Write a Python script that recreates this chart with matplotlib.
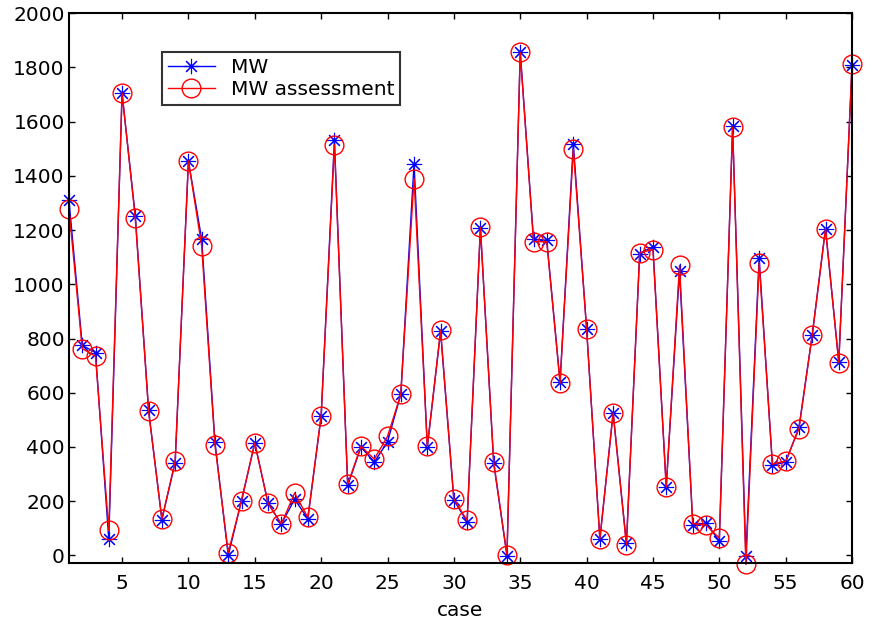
import matplotlib
matplotlib.use('Agg')
import matplotlib.pyplot as plt

# case number and the measured / assessed MW for each case
cases = list(range(1, 61))
mw = [1310, 775, 748, 59, 1704, 1251, 535, 132, 342, 1454,
      1166, 417, 0, 202, 415, 192, 116, 207, 136, 514,
      1531, 258, 400, 344, 419, 594, 1445, 400, 826, 203,
      125, 1208, 341, -1, 1857, 1166, 1162, 640, 1518, 836,
      60, 526, 44, 1113, 1138, 253, 1049, 113, 119, 53,
      1583, -2, 1097, 333, 344, 472, 813, 1205, 713, 1808]
mw_assess = [1277, 763, 734, 92, 1706, 1243, 532, 134, 347, 1455,
             1140, 408, 10, 202, 415, 192, 116, 230, 140, 514,
             1515, 262, 403, 355, 439, 594, 1390, 402, 831, 207,
             129, 1210, 345, 2, 1855, 1157, 1157, 635, 1498, 836,
             61, 526, 39, 1117, 1128, 252, 1070, 117, 112, 64,
             1580, -33, 1079, 337, 348, 467, 813, 1205, 711, 1812]
xticks = [5, 10, 15, 20, 25, 30, 35, 40, 45, 50, 55, 60]
yticks = list(range(0, 2001, 200))

plt.rcParams['font.family'] = 'DejaVu Sans'

fig = plt.figure(figsize=(8.73, 6.28), dpi=100)
ax = fig.add_axes([0.079, 0.1035, 0.897, 0.8755])

ax.plot(cases, mw, color='blue', lw=1, marker=(8, 2, 0), markersize=11,
        markeredgewidth=0.8, label='MW', clip_on=False)
ax.plot(cases, mw_assess, color='red', lw=1, marker='o', markersize=13.5,
        markerfacecolor='none', markeredgecolor='red', markeredgewidth=1,
        label='MW assessment', clip_on=False)

ax.set_xlim(1, 60)
ax.set_ylim(-28, 2000)
ax.set_xticks(xticks)
ax.set_yticks(yticks)
ax.tick_params(direction='in', top=True, right=True, length=4.5, width=1,
               labelsize=14.5, pad=3)
ax.tick_params(axis='x', pad=8)
for s in ax.spines.values():
    s.set_linewidth(1.5)
ax.set_xlabel('case', fontsize=14.5, labelpad=6)

leg = ax.legend(loc='upper left', bbox_to_anchor=(0.119, 0.929),
                borderaxespad=0, fancybox=False, fontsize=14.5,
                handlelength=2.3, handletextpad=0.8, borderpad=0.3,
                labelspacing=0.15)
leg.get_frame().set_edgecolor('black')
leg.get_frame().set_linewidth(1.5)

fig.savefig('out.png', dpi=100)
